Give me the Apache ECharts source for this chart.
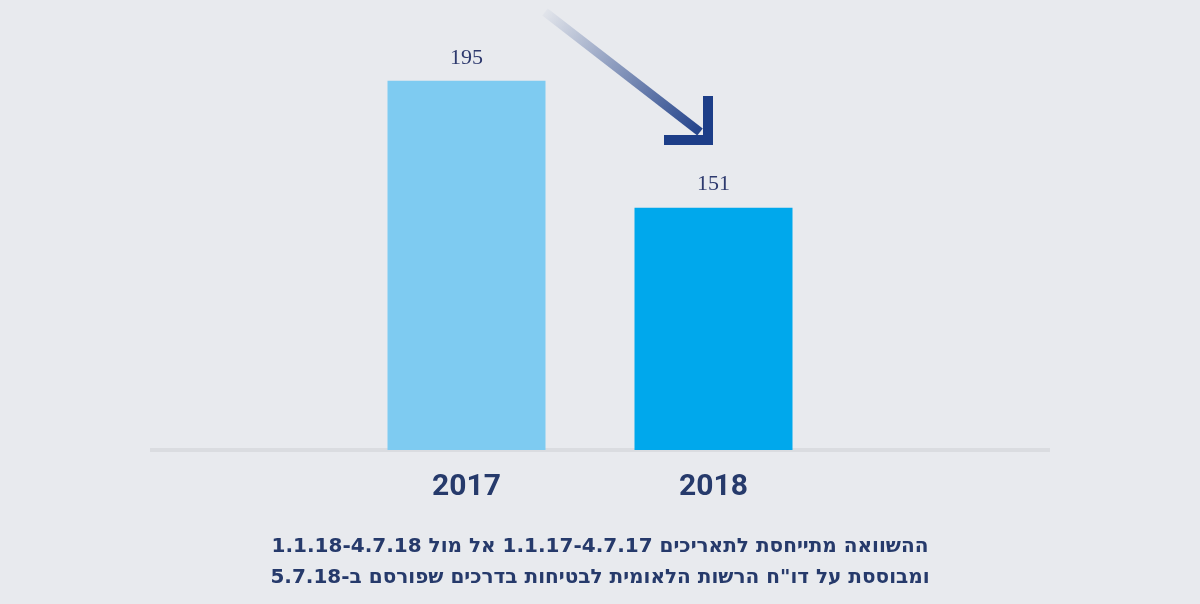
<!DOCTYPE html>
<html><head><meta charset="utf-8">
<script src="https://cdn.jsdelivr.net/npm/echarts@6/dist/echarts.min.js"></script>
<style>html,body{margin:0;padding:0;background:#e8eaee}#c{width:1200px;height:604px}</style>
</head><body><div id="c"></div>
<script>
const categories = ['2017', '2018'];
const values = [195, 151];
const barColors = ['#7ecbf1', '#00a8ec'];
const noteLines = ['ההשוואה מתייחסת לתאריכים 1.1.17-4.7.17 אל מול 1.1.18-4.7.18', 'ומבוססת על דו"ח הרשות הלאומית לבטיחות בדרכים שפורסם ב-5.7.18'];

const chart = echarts.init(document.getElementById('c'));
chart.setOption({
  backgroundColor: '#e8eaee',
  animation: false,
  grid: { left: 343, right: 363, top: 0, bottom: 154 },
  xAxis: {
    type: 'category', data: categories,
    axisLine: { show: false }, axisTick: { show: false },
    axisLabel: { margin: 22, fontSize: 30, fontWeight: 'bold', color: '#263a6b', fontFamily: 'Roboto' }
  },
  yAxis: { type: 'value', min: 67, max: 223, show: false, splitLine: { show: false } },
  series: [{
    type: 'bar', barWidth: 158,
    data: values.map((v, i) => ({ value: v, itemStyle: { color: barColors[i] } })),
    label: { show: true, position: 'top', distance: 12, fontSize: 22, color: '#2e3a6e', fontFamily: 'Liberation Serif' }
  }],
  graphic: [
    { type: 'rect', shape: { x: 150, y: 448, width: 900, height: 4 }, style: { fill: 'rgba(0,0,0,0.06)' }, z: -1 },
    { type: 'line', shape: { x1: 545, y1: 12, x2: 700, y2: 132 },
      style: { lineWidth: 9, stroke: new echarts.graphic.LinearGradient(0, 0, 1, 1, [
        { offset: 0, color: 'rgba(30,60,130,0)' }, { offset: 1, color: '#1d3e88' }]) } },
    { type: 'polyline', shape: { points: [[708, 96], [708, 140], [664, 140]] },
      style: { lineWidth: 10, stroke: '#1d3e88', fill: null, lineJoin: 'miter' } },
    { type: 'text', x: 600, y: 547, style: { text: noteLines[0], align: 'center', verticalAlign: 'middle', fontSize: 20, fontWeight: 'bold', fill: '#263a6b', fontFamily: 'DejaVu Sans', direction: 'rtl' } },
    { type: 'text', x: 600, y: 578, style: { text: noteLines[1], align: 'center', verticalAlign: 'middle', fontSize: 20, fontWeight: 'bold', fill: '#263a6b', fontFamily: 'DejaVu Sans' } }
  ]
});
</script></body></html>
